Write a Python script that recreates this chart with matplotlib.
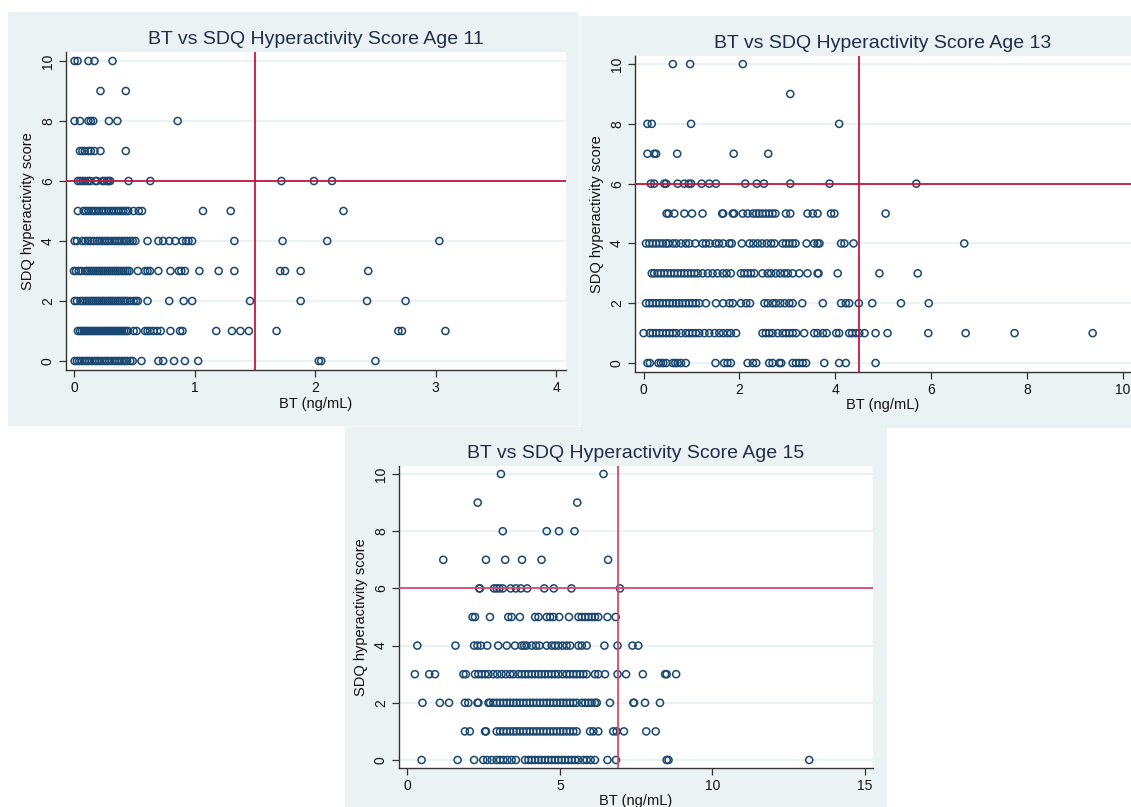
import matplotlib
matplotlib.use("Agg")
import matplotlib.pyplot as plt
from matplotlib.patches import Rectangle

plt.rcParams['font.family'] = ['Liberation Sans', 'DejaVu Sans']

# ---- data: BT (ng/mL) by SDQ hyperactivity score ----
scores = [10, 9, 8, 7, 6, 5, 4, 3, 2, 1, 0]

bt_age11 = {
    10: [0.005, 0.03, 0.12, 0.17, 0.32],
    9: [0.22, 0.43],
    8: [0.005, 0.05, 0.12, 0.14, 0.16, 0.29, 0.36, 0.86],
    7: [0.05, 0.07, 0.09, 0.12, 0.14, 0.17, 0.22, 0.43],
    6: [0.033, 0.052, 0.072, 0.094, 0.116, 0.135, 0.177, 0.19, 0.238, 0.254,
        0.274, 0.287, 0.30, 0.453, 0.633, 1.72, 1.99, 2.14],
    5: [0.033, 0.08, 0.10, 0.12, 0.144, 0.163, 0.183, 0.205, 0.227, 0.246,
        0.266, 0.288, 0.31, 0.33, 0.35, 0.37, 0.39, 0.41, 0.43, 0.45, 0.495,
        0.537, 0.564, 1.07, 1.30, 2.235],
    4: [0.006, 0.025, 0.07, 0.094, 0.116, 0.136, 0.163, 0.19, 0.21, 0.232,
        0.254, 0.274, 0.293, 0.315, 0.337, 0.357, 0.376, 0.398, 0.42, 0.44,
        0.467, 0.487, 0.509, 0.61, 0.70, 0.74, 0.79, 0.84, 0.90, 0.93, 0.95,
        0.98, 1.33, 1.73, 2.10, 3.03],
    3: [0.0, 0.017, 0.039, 0.06, 0.094, 0.11, 0.127, 0.144, 0.16, 0.177,
        0.194, 0.21, 0.227, 0.243, 0.26, 0.277, 0.293, 0.31, 0.326, 0.343,
        0.36, 0.376, 0.393, 0.41, 0.426, 0.443, 0.46, 0.53, 0.59, 0.61, 0.63,
        0.70, 0.80, 0.87, 0.89, 0.92, 1.04, 1.20, 1.33, 1.71, 1.75, 1.88, 2.44],
    2: [0.006, 0.025, 0.053, 0.072, 0.094, 0.11, 0.127, 0.144, 0.16, 0.177,
        0.194, 0.21, 0.227, 0.243, 0.26, 0.277, 0.293, 0.31, 0.326, 0.343,
        0.36, 0.376, 0.393, 0.41, 0.426, 0.443, 0.467, 0.495, 0.514, 0.53,
        0.61, 0.79, 0.91, 0.98, 1.46, 1.88, 2.43, 2.75],
    1: [0.033, 0.05, 0.066, 0.083, 0.10, 0.116, 0.133, 0.15, 0.166, 0.183,
        0.20, 0.216, 0.232, 0.249, 0.266, 0.282, 0.299, 0.315, 0.332, 0.349,
        0.365, 0.382, 0.398, 0.415, 0.432, 0.448, 0.495, 0.52, 0.59, 0.61,
        0.63, 0.66, 0.69, 0.72, 0.80, 0.88, 0.90, 1.18, 1.31, 1.38, 1.45,
        1.68, 2.69, 2.72, 3.08],
    0: [0.006, 0.025, 0.044, 0.066, 0.089, 0.108, 0.127, 0.149, 0.172, 0.19,
        0.21, 0.232, 0.254, 0.274, 0.293, 0.315, 0.337, 0.357, 0.376, 0.398,
        0.42, 0.44, 0.467, 0.487, 0.56, 0.70, 0.74, 0.83, 0.92, 1.03, 2.03,
        2.05, 2.50],
}

bt_age13 = {
    10: [0.61, 0.97, 2.07],
    9: [3.06],
    8: [0.08, 0.17, 0.99, 4.08],
    7: [0.08, 0.22, 0.26, 0.70, 1.88, 2.60],
    6: [0.15, 0.22, 0.43, 0.47, 0.71, 0.85, 0.94, 0.99, 1.21, 1.37, 1.51,
        2.12, 2.36, 2.51, 3.06, 3.88, 5.69],
    5: [0.48, 0.52, 0.64, 0.85, 1.01, 1.23, 1.64, 1.66, 1.86, 1.89, 2.07,
        2.17, 2.28, 2.35, 2.41, 2.48, 2.55, 2.62, 2.69, 2.75, 2.97, 3.06,
        3.42, 3.53, 3.63, 3.91, 3.98, 5.05],
    4: [0.05, 0.12, 0.19, 0.26, 0.33, 0.40, 0.47, 0.52, 0.61, 0.68, 0.78,
        0.88, 0.95, 1.08, 1.23, 1.30, 1.38, 1.50, 1.57, 1.66, 1.79, 1.84,
        2.05, 2.21, 2.29, 2.38, 2.47, 2.57, 2.66, 2.73, 2.90, 2.97, 3.04,
        3.11, 3.17, 3.40, 3.56, 3.63, 3.67, 4.12, 4.19, 4.38, 6.69],
    3: [0.17, 0.22, 0.29, 0.36, 0.43, 0.50, 0.57, 0.64, 0.71, 0.78, 0.85,
        0.92, 0.99, 1.06, 1.13, 1.23, 1.34, 1.44, 1.54, 1.65, 1.73, 1.82,
        2.03, 2.10, 2.17, 2.24, 2.31, 2.48, 2.59, 2.66, 2.76, 2.85, 2.94,
        3.01, 3.11, 3.25, 3.42, 3.63, 3.65, 4.05, 4.92, 5.72],
    2: [0.05, 0.12, 0.19, 0.26, 0.33, 0.40, 0.47, 0.54, 0.61, 0.68, 0.74,
        0.81, 0.88, 0.95, 1.02, 1.09, 1.16, 1.30, 1.51, 1.66, 1.79, 1.86,
        2.03, 2.14, 2.22, 2.52, 2.59, 2.69, 2.76, 2.85, 2.94, 3.04, 3.11,
        3.31, 3.74, 4.12, 4.22, 4.29, 4.49, 4.77, 5.37, 5.95],
    1: [0.0, 0.13, 0.19, 0.26, 0.33, 0.40, 0.47, 0.54, 0.61, 0.68, 0.78,
        0.88, 0.95, 1.02, 1.09, 1.16, 1.27, 1.37, 1.48, 1.58, 1.66, 1.75,
        1.82, 1.93, 2.48, 2.55, 2.62, 2.69, 2.80, 2.90, 2.97, 3.04, 3.11,
        3.18, 3.35, 3.56, 3.63, 3.74, 3.82, 4.02, 4.08, 4.29, 4.35, 4.43,
        4.50, 4.61, 4.84, 5.09, 5.94, 6.72, 7.74, 9.37],
    0: [0.08, 0.13, 0.31, 0.36, 0.41, 0.47, 0.61, 0.66, 0.71, 0.78, 0.88,
        1.50, 1.68, 1.75, 1.82, 2.17, 2.28, 2.35, 2.62, 2.69, 2.83, 2.87,
        3.11, 3.18, 3.25, 3.32, 3.39, 3.77, 4.08, 4.22, 4.84],
}

bt_age15 = {
    10: [3.07, 6.43],
    9: [2.31, 5.57],
    8: [3.13, 4.57, 4.97, 5.48],
    7: [1.18, 2.58, 3.21, 3.76, 4.40, 6.58],
    6: [2.36, 2.38, 2.84, 2.93, 3.02, 3.13, 3.39, 3.56, 3.72, 3.93, 4.49,
        4.80, 5.38, 6.97],
    5: [2.14, 2.22, 2.71, 3.31, 3.42, 3.69, 4.19, 4.30, 4.57, 4.68, 4.79,
        4.98, 5.30, 5.61, 5.72, 5.83, 5.94, 6.05, 6.15, 6.26, 6.56, 6.83],
    4: [0.33, 1.58, 2.19, 2.30, 2.41, 2.62, 2.98, 3.26, 3.53, 3.75, 3.83,
        3.91, 4.08, 4.22, 4.33, 4.57, 4.73, 4.84, 4.95, 5.09, 5.22, 5.34,
        5.61, 5.72, 5.88, 6.46, 6.89, 7.38, 7.57],
    3: [0.25, 0.72, 0.91, 1.84, 1.92, 2.22, 2.33, 2.44, 2.55, 2.66, 2.82,
        2.95, 3.09, 3.23, 3.37, 3.48, 3.64, 3.75, 3.86, 3.97, 4.08, 4.19,
        4.30, 4.40, 4.51, 4.62, 4.73, 4.84, 4.95, 5.09, 5.22, 5.33, 5.44,
        5.55, 5.66, 5.77, 5.88, 6.15, 6.26, 6.48, 6.89, 7.17, 7.72, 8.45,
        8.50, 8.81],
    2: [0.50, 1.07, 1.37, 1.89, 2.00, 2.30, 2.33, 2.66, 2.71, 2.82, 2.93,
        3.04, 3.15, 3.26, 3.37, 3.48, 3.58, 3.69, 3.80, 3.91, 4.02, 4.13,
        4.24, 4.35, 4.46, 4.57, 4.68, 4.79, 4.90, 5.01, 5.11, 5.22, 5.33,
        5.44, 5.55, 5.72, 5.83, 5.93, 6.04, 6.15, 6.21, 6.64, 7.41, 7.43,
        7.79, 8.28],
    1: [1.89, 2.05, 2.55, 2.58, 2.93, 3.04, 3.15, 3.26, 3.37, 3.48, 3.58,
        3.69, 3.80, 3.91, 4.02, 4.13, 4.24, 4.35, 4.46, 4.57, 4.68, 4.79,
        4.90, 5.01, 5.11, 5.22, 5.33, 5.44, 5.55, 5.99, 6.10, 6.26, 6.75,
        6.86, 7.10, 7.83, 8.14],
    0: [0.47, 1.65, 2.19, 2.49, 2.62, 2.77, 2.93, 3.04, 3.15, 3.28, 3.42,
        3.56, 3.86, 3.97, 4.08, 4.19, 4.30, 4.40, 4.51, 4.62, 4.73, 4.84,
        4.95, 5.06, 5.17, 5.28, 5.39, 5.50, 5.61, 5.77, 5.88, 6.01, 6.15,
        6.56, 6.84, 8.50, 8.56, 13.17],
}

titles = ["BT vs SDQ Hyperactivity Score Age 11",
          "BT vs SDQ Hyperactivity Score Age 13",
          "BT vs SDQ Hyperactivity Score Age 15"]
x_ticks = [[0, 1, 2, 3, 4], [0, 2, 4, 6, 8, 10], [0, 5, 10, 15]]
cut_x = [1.5, 4.5, 6.9]   # vertical reference lines
cut_y = 6                 # horizontal reference line
y_ticks = [0, 2, 4, 6, 8, 10]

W, H = 1131, 807
BG = '#eaf2f3'
NAVY = '#1a476f'
TXT = '#1f2d4a'

fig = plt.figure(figsize=(W / 100, H / 100), dpi=100)

def px(x0, y0, x1, y1):
    # pixel box (top-left origin) -> figure fraction
    return [x0 / W, 1 - y1 / H, (x1 - x0) / W, (y1 - y0) / H]

# panel backgrounds (kept behind the axes)
for box in [(8, 12, 579, 426), (580, 16, 1131, 428), (345, 427, 887, 807)]:
    r = px(*box)
    fig.patches.append(Rectangle((r[0], r[1]), r[2], r[3], transform=fig.transFigure,
                                 facecolor=BG, edgecolor='none', zorder=-5))

axes_boxes = [(66, 52, 566, 370), (635, 56, 1131, 372), (399, 466, 873, 768)]
xlims = [(-0.066, 4.08), (-0.18, 10.17), (-0.27, 15.26)]
ylims = [(-0.3, 10.3), (-0.3, 10.27), (-0.28, 10.28)]
line_cols = ['#c4173f', '#c8153d', '#d44a6c']
datasets = [bt_age11, bt_age13, bt_age15]

for i in range(3):
    ax = fig.add_axes(px(*axes_boxes[i]))
    ax.set_zorder(2)
    ax.set_facecolor('white')
    for yt in y_ticks:
        ax.axhline(yt, color=BG, lw=1.6, zorder=1)
    d = datasets[i]
    for s in scores:
        ax.scatter(d[s], [s] * len(d[s]), s=26, facecolors='none',
                   edgecolors=NAVY, linewidths=1.1, zorder=3)
    ax.axvline(cut_x[i], color=line_cols[i], lw=1.3, zorder=4)
    ax.axhline(cut_y, color=line_cols[i], lw=1.3, zorder=4)
    ax.set_xlim(*xlims[i])
    ax.set_ylim(*ylims[i])
    ax.set_xticks(x_ticks[i])
    ax.set_yticks(y_ticks)
    ax.set_yticklabels([str(t) for t in y_ticks], rotation=90, va='center')
    ax.tick_params(axis='both', direction='out', length=5, width=0.9,
                   color='#333333', labelsize=10, labelcolor='#111111', pad=3)
    for sp in ['top', 'right']:
        ax.spines[sp].set_visible(False)
    for sp in ['left', 'bottom']:
        ax.spines[sp].set_color('#333333')
        ax.spines[sp].set_linewidth(1.0)
    ax.set_xlabel('BT (ng/mL)', fontsize=10.5, color='#111111', labelpad=1)
    ax.set_ylabel('SDQ hyperactivity score', fontsize=10.5, color='#111111', labelpad=4)
    ax.set_title(titles[i], fontsize=14, color=TXT, pad=6)

fig.savefig('out.png', dpi=100, facecolor='white')
